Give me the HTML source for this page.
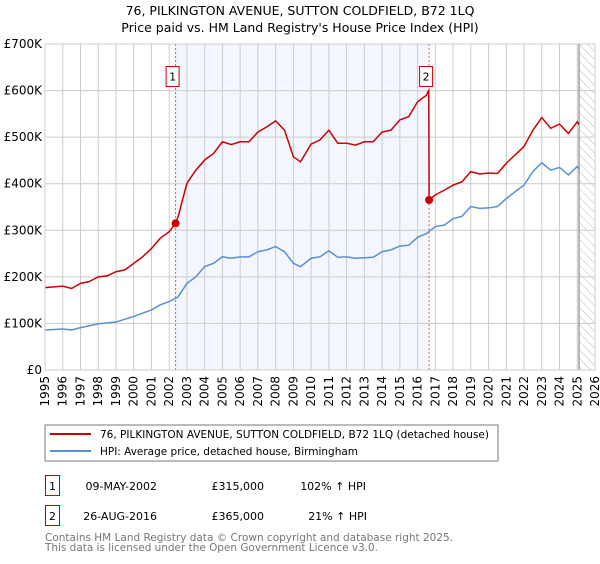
<!DOCTYPE html>
<html><head><meta charset="utf-8"><style>
body{margin:0;background:#fff;font-family:"DejaVu Sans","Liberation Sans",sans-serif;}
svg text{font-family:"DejaVu Sans","Liberation Sans",sans-serif;}
</style></head><body>
<svg id="chart" width="600" height="560" xmlns="http://www.w3.org/2000/svg">
<defs><pattern id="hatch" width="6" height="6" patternUnits="userSpaceOnUse" patternTransform="rotate(-45)"><line x1="0" y1="0" x2="0" y2="6" stroke="#bbb" stroke-width="1"/></pattern></defs>
<text x="300" y="15" text-anchor="middle" font-size="12.5" fill="#000">76, PILKINGTON AVENUE, SUTTON COLDFIELD, B72 1LQ</text>
<text x="300" y="32" text-anchor="middle" font-size="12.5" fill="#000">Price paid vs. HM Land Registry's House Price Index (HPI)</text>
<g id="plot"></g>
<rect x="45" y="425" width="453" height="36" fill="#fff" stroke="#777"/>
<line x1="50" y1="434" x2="91" y2="434" stroke="#cc0000" stroke-width="2"/>
<text x="100" y="438" font-size="10.5" textLength="389" lengthAdjust="spacingAndGlyphs">76, PILKINGTON AVENUE, SUTTON COLDFIELD, B72 1LQ (detached house)</text>
<line x1="50" y1="451" x2="91" y2="451" stroke="#5b8fd0" stroke-width="2"/>
<text x="100" y="455" font-size="10.5" textLength="258" lengthAdjust="spacingAndGlyphs">HPI: Average price, detached house, Birmingham</text>
<g>
<rect x="45.5" y="475.5" width="14" height="20" fill="#fff" stroke="#cc0000"/>
<text x="52.5" y="490" text-anchor="middle" font-size="11">1</text>
<text x="157" y="490" text-anchor="end" font-size="11">09-MAY-2002</text>
<text x="264" y="490" text-anchor="end" font-size="11">£315,000</text>
<text x="366" y="490" text-anchor="end" font-size="11">102% ↑ HPI</text></g>
<g>
<rect x="45.5" y="505.5" width="14" height="20" fill="#fff" stroke="#cc0000"/>
<text x="52.5" y="520" text-anchor="middle" font-size="11">2</text>
<text x="157" y="520" text-anchor="end" font-size="11">26-AUG-2016</text>
<text x="264" y="520" text-anchor="end" font-size="11">£365,000</text>
<text x="367" y="520" text-anchor="end" font-size="11">21% ↑ HPI</text></g>
<text x="45" y="541" font-size="11" fill="#777" textLength="408" lengthAdjust="spacingAndGlyphs">Contains HM Land Registry data © Crown copyright and database right 2025.</text>
<text x="45" y="551" font-size="11" fill="#777" textLength="333" lengthAdjust="spacingAndGlyphs">This data is licensed under the Open Government Licence v3.0.</text>
</svg>
<script>
const hpiYears=[1995,1996,1996.5,1997,1998,1999,2000,2001,2001.5,2002,2002.5,2003,2003.5,2004,2004.5,2005,2005.5,2006,2006.5,2007,2007.5,2008,2008.5,2009,2009.4,2010,2010.5,2011,2011.5,2012,2012.5,2013,2013.5,2014,2014.5,2015,2015.5,2016,2016.5,2017,2017.5,2018,2018.5,2019,2019.5,2020,2020.5,2021,2021.5,2022,2022.5,2023,2023.5,2024,2024.5,2025,2025.1];
const hpiValues=[86,88,86,91,99,103,115,129,140,147,157,186,200,222,229,243,240,243,243,254,258,265,254,229,222,240,243,256,242,243,240,241,242,254,258,266,268,285,293,308,311,325,330,351,347,348,351,368,383,397,426,445,429,435,419,437,432];
const priceYears=[1995,1996,1996.5,1997,1997.5,1998,1998.5,1999,1999.5,2000,2000.5,2001,2001.5,2002,2002.36,2002.5,2003,2003.5,2004,2004.5,2005,2005.5,2006,2006.5,2007,2007.5,2008,2008.5,2009,2009.4,2010,2010.5,2011,2011.5,2012,2012.5,2013,2013.5,2014,2014.5,2015,2015.5,2016,2016.5,2016.63,2016.65,2017,2017.5,2018,2018.5,2019,2019.5,2020,2020.5,2021,2021.5,2022,2022.5,2023,2023.5,2024,2024.5,2025,2025.1];
const priceValues=[177,180,175,186,190,200,202,211,215,229,243,261,283,297,315,329,401,429,451,465,490,484,490,490,511,522,535,515,458,447,485,494,515,487,487,483,490,490,511,515,537,544,576,590,601,365,376,386,397,404,426,421,423,422,444,462,480,515,542,519,528,508,533,527];
const saleYears=[2002.36,2016.65];
const saleValues=[315,365];
const saleLabels=["1","2"];
const yTicks=[0,100,200,300,400,500,600,700];
const yTickLabels=["£0","£100K","£200K","£300K","£400K","£500K","£600K","£700K"];
const xTicks=[];for(let y=1995;y<=2026;y++)xTicks.push(y);

const X0=45,X1=595,Y0=370,Y1=44;
const xs=y=>X0+(y-1995)/(2026-1995)*(X1-X0);
const ys=v=>Y0-v/700*(Y0-Y1);
const NS="http://www.w3.org/2000/svg";
const g=document.getElementById('plot');
function mk(t,a){const e=document.createElementNS(NS,t);for(const k in a)e.setAttribute(k,a[k]);g.appendChild(e);return e;}

const shade=mk('rect',{x:xs(saleYears[0]),y:Y1,width:xs(saleYears[1])-xs(saleYears[0]),height:Y0-Y1,fill:'#eef2fc',opacity:0.7});


const hat=mk('rect',{x:xs(2025.1),y:Y1,width:X1-xs(2025.1),height:Y0-Y1,fill:'url(#hatch)'});


xTicks.forEach(t=>{
  const l=mk('line',{x1:xs(t),x2:xs(t),y1:Y1,y2:Y0,stroke:'#ccc','stroke-width':1});
  
  
  const tx=mk('text',{x:0,y:0,'font-size':12,'text-anchor':'end',transform:`translate(${xs(t)+4},${Y0+6}) rotate(-90)`});
  tx.textContent=t;
  
  
});
yTicks.forEach((t,i)=>{
  const l=mk('line',{x1:X0,x2:X1,y1:ys(t),y2:ys(t),stroke:'#ccc','stroke-width':1});
  
  
  const tx=mk('text',{x:X0-3,y:ys(t)+4,'font-size':12,'text-anchor':'end'});
  tx.textContent=yTickLabels[i];
  
  
});
const nl=mk('line',{x1:xs(2025.1),x2:xs(2025.1),y1:Y1,y2:Y0,stroke:'#888','stroke-width':1.2});


saleYears.forEach((s,i)=>{
  const l=mk('line',{x1:xs(s),x2:xs(s),y1:Y1,y2:Y0,stroke:'#e06060','stroke-width':1,'stroke-dasharray':'2,2'});
  
  
  const r=mk('rect',{x:xs(s)-9.5,y:66.5,width:13,height:20,fill:'#fff',stroke:'#cc0000'});
  
  
  const t=mk('text',{x:xs(s)-3,y:80.5,'font-size':11,'text-anchor':'middle'});
  t.textContent=saleLabels[i];
  
  
});
const hp=mk('polyline',{points:hpiYears.map((y,i)=>xs(y)+','+ys(hpiValues[i])).join(' '),fill:'none',stroke:'#5b8fd0','stroke-width':1.5});


const pp=mk('polyline',{points:priceYears.map((y,i)=>xs(y)+','+ys(priceValues[i])).join(' '),fill:'none',stroke:'#cc0000','stroke-width':1.5});


saleYears.forEach((s,i)=>{
  const c=mk('circle',{cx:xs(s),cy:ys(saleValues[i]),r:4,fill:'#cc0000'});
  
  
});
const fr=mk('rect',{x:X0,y:Y1,width:X1-X0,height:Y0-Y1,fill:'none',stroke:'#ccc'});


</script>
</body></html>
